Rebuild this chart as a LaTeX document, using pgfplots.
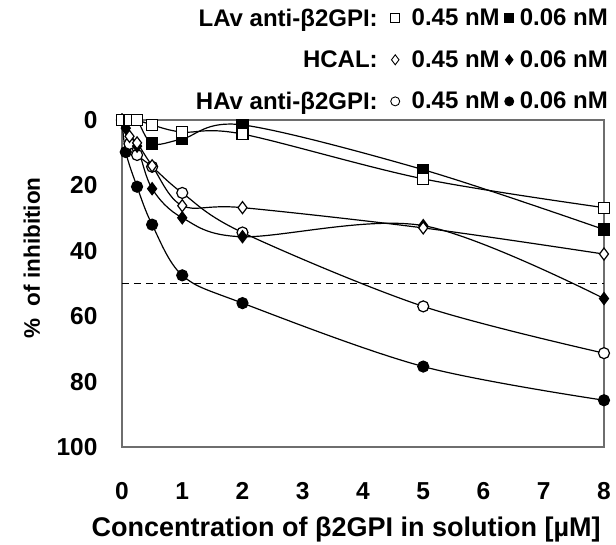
\documentclass[border=0pt]{standalone}
\usepackage{fontspec}
\setmainfont{Liberation Sans}
\usepackage{pgfplots}
\pgfplotsset{compat=1.18}
\usetikzlibrary{calc}
\definecolor{axgray}{HTML}{6E6E6E}

\begin{document}
\begin{tikzpicture}
\begin{axis}[
    scale only axis,
    width=482pt, height=327pt,
    xmin=0, xmax=8, ymin=0, ymax=100,
    y dir=reverse,
    xtick={0,1,...,8}, ytick={0,20,...,100},
    major tick length=0pt,
    axis line style={draw=axgray, line width=1.3pt},
    /pgf/number format/assume math mode=true,
    tick label style={font=\fontsize{24.5}{24.5}\selectfont\bfseries},
    xticklabel style={yshift=-32pt},
    yticklabel style={xshift=-21pt},
    xlabel={Concentration of β2GPI in solution [µM]},
    ylabel={\%\ \ of inhibition},
    xlabel style={font=\fontsize{27}{27}\selectfont\bfseries, at={(axis description cs:0.465,-0.252)}, anchor=center},
    ylabel style={font=\fontsize{22.5}{22.5}\selectfont\bfseries, at={(axis description cs:-0.187,0.578)}, anchor=center},
    every axis plot/.append style={black, line width=1.2pt, smooth, tension=0.55},
    legend columns=3,
    legend cell align=right,
    legend image code/.code={\draw[black, #1] plot coordinates {(0pt,0pt)};},
    legend style={draw=none, fill=none, at={(1,1)}, anchor=south east, xshift=4pt, yshift=9pt,
        font=\fontsize{24}{24}\selectfont\bfseries,
        row sep=23pt, inner sep=0pt,
        nodes={inner sep=0pt},
        /tikz/column 1/.style={column sep=0pt},
        /tikz/column 2/.style={column sep=13pt},
        /tikz/column 3/.style={column sep=12pt},
        /tikz/column 4/.style={column sep=5pt},
        /tikz/column 5/.style={column sep=6pt}},
    clip=false,
]
\coordinate (LL) at (rel axis cs:0,0);
% legend
\addlegendimage{empty legend}\addlegendentry{LAv anti-β2GPI:}
\addlegendimage{mark=square*, mark options={fill=white}, mark size=4.5pt, line width=0.9pt}\addlegendentry{0.45 nM}
\addlegendimage{mark=square*, mark options={fill=black}, mark size=4.5pt, line width=0.9pt}\addlegendentry{0.06 nM}
\addlegendimage{empty legend}\addlegendentry{HCAL:}
\addlegendimage{mark=diamond*, mark options={fill=white}, mark size=5pt, line width=0.9pt}\addlegendentry{0.45 nM}
\addlegendimage{mark=diamond*, mark options={fill=black}, mark size=5pt, line width=0.9pt}\addlegendentry{0.06 nM}
\addlegendimage{empty legend}\addlegendentry{HAv anti-β2GPI:}
\addlegendimage{mark=*, mark options={fill=white}, mark size=4.5pt, line width=0.9pt}\addlegendentry{0.45 nM}
\addlegendimage{mark=*, mark options={fill=black}, mark size=4.5pt, line width=0.9pt}\addlegendentry{0.06 nM}

% 50 % line
\addplot[forget plot, black, line width=1.2pt, dash pattern=on 7pt off 5pt, sharp plot] coordinates {(0,50) (8,50)};

% HAv anti-b2GPI 0.06 nM
\addplot[forget plot, mark=*, mark size=5.5pt, mark options={fill=black}] coordinates {
(0,0) (0.0625,9.8) (0.25,20.4) (0.5,32) (1,47.5) (2,56) (5,75.4) (8,85.7)};
% HAv anti-b2GPI 0.45 nM
\addplot[forget plot, mark=*, mark size=5.5pt, mark options={fill=white}] coordinates {
(0,0) (0.125,7.3) (0.25,10.7) (0.5,14.3) (1,22.3) (2,34.4) (5,57) (8,71.3)};
% HCAL 0.06 nM
\addplot[forget plot, mark=diamond*, mark size=6pt, mark options={fill=black}] coordinates {
(0,0) (0.0625,2.5) (0.25,8) (0.5,21) (1,29.9) (2,35.7) (5,32.3) (8,54.6)};
% HCAL 0.45 nM
\addplot[forget plot, mark=diamond*, mark size=6pt, mark options={fill=white}] coordinates {
(0,0) (0.125,5) (0.25,7) (0.5,14) (1,26.2) (2,26.8) (5,33) (8,41)};
% LAv anti-b2GPI 0.06 nM
\addplot[forget plot, mark=square*, mark size=5.5pt, mark options={fill=black}] coordinates {
(0,0) (0.125,0) (0.25,0) (0.5,7.2) (1,5.8) (2,1.5) (5,15.2) (8,33.5)};
% LAv anti-b2GPI 0.45 nM
\addplot[forget plot, mark=square*, mark size=5.5pt, mark options={fill=white}] coordinates {
(0,0) (0.125,0) (0.25,0) (0.5,1.5) (1,3.7) (2,4.3) (5,18) (8,26.8)};
\end{axis}
\pgfresetboundingbox
\path ($(LL)+(-122pt,-97pt)$) rectangle ($(LL)+(494pt,447pt)$);
\end{tikzpicture}
\end{document}
